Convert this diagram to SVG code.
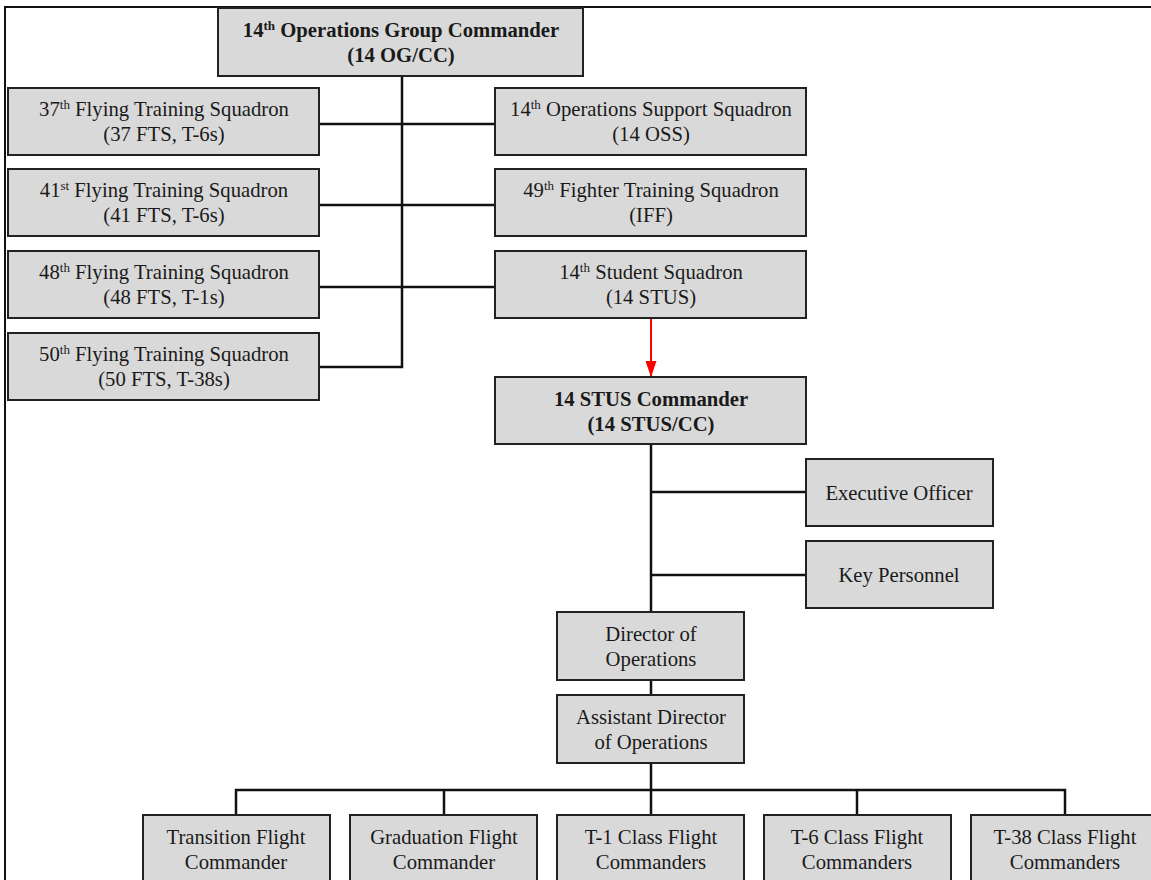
<svg xmlns="http://www.w3.org/2000/svg" width="1151" height="880" viewBox="0 0 1151 880">
<style>
.box{fill:#d9d9d9;stroke:#222;stroke-width:2}
text{font-family:'Liberation Serif','Times New Roman',serif;font-size:20.7px;fill:#1a1a1a;text-anchor:middle}
.b{font-weight:bold}
.sup{font-size:13px}
.ln{stroke:#111;stroke-width:2.5;fill:none}
.frame{stroke:#111;stroke-width:2;fill:none}
</style>
<defs>
<marker id="ah" markerWidth="16" markerHeight="11" refX="16" refY="5.5" orient="auto" markerUnits="userSpaceOnUse" viewBox="0 0 16 11">
<path d="M0,0 L16,5.5 L0,11 Z" fill="#ff0000"/>
</marker>
</defs>
<rect width="1151" height="880" fill="#fff"/>
<path class="frame" d="M5,880 V7 H1151"/>
<g id="connectors">
<path class="ln" d="M402,76 V367 H319"/>
<path class="ln" d="M319,124 H495"/>
<path class="ln" d="M319,205 H495"/>
<path class="ln" d="M319,287 H495"/>
<path d="M651,318 V377" stroke="#ff0000" stroke-width="2" fill="none" marker-end="url(#ah)"/>
<path class="ln" d="M651,444 V612"/>
<path class="ln" d="M651,492 H806"/>
<path class="ln" d="M651,575 H806"/>
<path class="ln" d="M651,680 V695"/>
<path class="ln" d="M651,763 V790"/>
<path class="ln" d="M236,815 V790 H1065 V815"/>
<path class="ln" d="M444,790 V815"/>
<path class="ln" d="M651,790 V815"/>
<path class="ln" d="M857,790 V815"/>
</g>
<g id="og-cc">
<rect class="box" x="218" y="8" width="365" height="68"/>
<text class="b" x="401" y="37">14<tspan class="sup" dy="-7">th</tspan><tspan dy="7"> Operations Group Commander</tspan></text>
<text class="b" x="401" y="62">(14 OG/CC)</text>
</g>
<g id="fts37">
<rect class="box" x="8" y="88" width="311" height="67"/>
<text x="164" y="116">37<tspan class="sup" dy="-7">th</tspan><tspan dy="7"> Flying Training Squadron</tspan></text>
<text x="164" y="141">(37 FTS, T-6s)</text>
</g>
<g id="fts41">
<rect class="box" x="8" y="169" width="311" height="67"/>
<text x="164" y="197">41<tspan class="sup" dy="-7">st</tspan><tspan dy="7"> Flying Training Squadron</tspan></text>
<text x="164" y="222">(41 FTS, T-6s)</text>
</g>
<g id="fts48">
<rect class="box" x="8" y="251" width="311" height="67"/>
<text x="164" y="279">48<tspan class="sup" dy="-7">th</tspan><tspan dy="7"> Flying Training Squadron</tspan></text>
<text x="164" y="304">(48 FTS, T-1s)</text>
</g>
<g id="fts50">
<rect class="box" x="8" y="333" width="311" height="67"/>
<text x="164" y="361">50<tspan class="sup" dy="-7">th</tspan><tspan dy="7"> Flying Training Squadron</tspan></text>
<text x="164" y="386">(50 FTS, T-38s)</text>
</g>
<g id="oss14">
<rect class="box" x="495" y="88" width="311" height="67"/>
<text x="651" y="116">14<tspan class="sup" dy="-7">th</tspan><tspan dy="7"> Operations Support Squadron</tspan></text>
<text x="651" y="141">(14 OSS)</text>
</g>
<g id="fts49">
<rect class="box" x="495" y="169" width="311" height="67"/>
<text x="651" y="197">49<tspan class="sup" dy="-7">th</tspan><tspan dy="7"> Fighter Training Squadron</tspan></text>
<text x="651" y="222">(IFF)</text>
</g>
<g id="stus14">
<rect class="box" x="495" y="251" width="311" height="67"/>
<text x="651" y="279">14<tspan class="sup" dy="-7">th</tspan><tspan dy="7"> Student Squadron</tspan></text>
<text x="651" y="304">(14 STUS)</text>
</g>
<g id="stus-cc">
<rect class="box" x="495" y="377" width="311" height="67"/>
<text class="b" x="651" y="406">14 STUS Commander</text>
<text class="b" x="651" y="431">(14 STUS/CC)</text>
</g>
<g id="exec">
<rect class="box" x="806" y="459" width="187" height="67"/>
<text x="899" y="500">Executive Officer</text>
</g>
<g id="keypers">
<rect class="box" x="806" y="541" width="187" height="67"/>
<text x="899" y="582">Key Personnel</text>
</g>
<g id="do">
<rect class="box" x="557" y="612" width="187" height="68"/>
<text x="651" y="641">Director of</text>
<text x="651" y="666">Operations</text>
</g>
<g id="ado">
<rect class="box" x="557" y="695" width="187" height="68"/>
<text x="651" y="724">Assistant Director</text>
<text x="651" y="749">of Operations</text>
</g>
<g id="transition">
<rect class="box" x="143" y="815" width="187" height="80"/>
<text x="236" y="844">Transition Flight</text>
<text x="236" y="869">Commander</text>
</g>
<g id="graduation">
<rect class="box" x="350" y="815" width="187" height="80"/>
<text x="444" y="844">Graduation Flight</text>
<text x="444" y="869">Commander</text>
</g>
<g id="t1">
<rect class="box" x="557" y="815" width="187" height="80"/>
<text x="651" y="844">T-1 Class Flight</text>
<text x="651" y="869">Commanders</text>
</g>
<g id="t6">
<rect class="box" x="764" y="815" width="187" height="80"/>
<text x="857" y="844">T-6 Class Flight</text>
<text x="857" y="869">Commanders</text>
</g>
<g id="t38">
<rect class="box" x="971" y="815" width="187" height="80"/>
<text x="1065" y="844">T-38 Class Flight</text>
<text x="1065" y="869">Commanders</text>
</g>
</svg>
